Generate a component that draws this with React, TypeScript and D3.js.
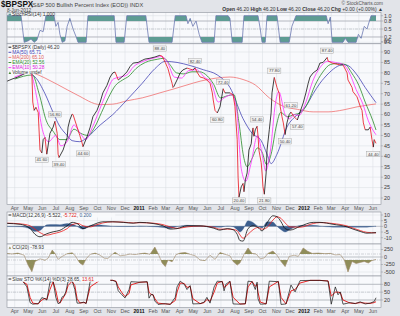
import React from "react";
import * as d3 from "d3";

// ---------------- DATA ----------------
const bpspx: [string, number][] = [
  ["2010-03-15", 76], ["2010-03-26", 77], ["2010-04-08", 78], ["2010-04-22", 79.5], ["2010-05-03", 81],
  ["2010-05-09", 80], ["2010-05-11", 66], ["2010-05-14", 62], ["2010-05-18", 63.5], ["2010-05-23", 61],
  ["2010-05-27", 43], ["2010-05-31", 41.6], ["2010-06-03", 48], ["2010-06-07", 49], ["2010-06-11", 41],
  ["2010-06-18", 51], ["2010-06-25", 54], ["2010-06-29", 56.8], ["2010-07-04", 51], ["2010-07-06", 41],
  ["2010-07-08", 39.4], ["2010-07-17", 43], ["2010-07-26", 49], ["2010-07-28", 54], ["2010-08-01", 57.5],
  ["2010-08-06", 60.2], ["2010-08-08", 60], ["2010-08-17", 54], ["2010-08-23", 50], ["2010-08-28", 46.4],
  ["2010-08-30", 44.6], ["2010-09-08", 49.4], ["2010-09-15", 54], ["2010-09-21", 59], ["2010-09-30", 62],
  ["2010-10-07", 66], ["2010-10-13", 70.4], ["2010-10-22", 74], ["2010-10-29", 78], ["2010-11-04", 80],
  ["2010-11-09", 80.4], ["2010-11-16", 76.6], ["2010-11-24", 78], ["2010-12-05", 80.4], ["2010-12-12", 83],
  ["2010-12-19", 84.7], ["2010-12-30", 85], ["2011-01-08", 86], ["2011-01-14", 86.6], ["2011-01-25", 87],
  ["2011-02-05", 87.6], ["2011-02-16", 88.4], ["2011-02-21", 88], ["2011-02-28", 85], ["2011-03-04", 83],
  ["2011-03-06", 82], ["2011-03-11", 78], ["2011-03-15", 75], ["2011-03-17", 73], ["2011-03-19", 73.5],
  ["2011-03-26", 76.6], ["2011-04-02", 80], ["2011-04-08", 81.4], ["2011-04-17", 82.3], ["2011-04-24", 81.8],
  ["2011-04-30", 81.4], ["2011-05-05", 82.4], ["2011-05-09", 80.4], ["2011-05-16", 78], ["2011-05-23", 77.6],
  ["2011-05-31", 76.6], ["2011-06-07", 75], ["2011-06-12", 70.4], ["2011-06-14", 67], ["2011-06-18", 62],
  ["2011-06-23", 60.8], ["2011-06-29", 63.7], ["2011-07-06", 72.4], ["2011-07-10", 70.4], ["2011-07-21", 70.4],
  ["2011-07-28", 69.5], ["2011-08-01", 64], ["2011-08-06", 48], ["2011-08-08", 30], ["2011-08-10", 20.4],
  ["2011-08-15", 25.4], ["2011-08-19", 27], ["2011-08-21", 23], ["2011-08-24", 28.7], ["2011-08-28", 32],
  ["2011-09-01", 43], ["2011-09-06", 46], ["2011-09-08", 51], ["2011-09-10", 53.6], ["2011-09-12", 49.6],
  ["2011-09-15", 52.7], ["2011-09-19", 54.4], ["2011-09-21", 50], ["2011-09-23", 43], ["2011-09-28", 37],
  ["2011-09-30", 32], ["2011-10-02", 25.4], ["2011-10-05", 21.8], ["2011-10-09", 32], ["2011-10-11", 43],
  ["2011-10-16", 52.7], ["2011-10-20", 60.8], ["2011-10-22", 70.4], ["2011-10-27", 77.8], ["2011-11-02", 73],
  ["2011-11-07", 70], ["2011-11-09", 64], ["2011-11-13", 59], ["2011-11-16", 56], ["2011-11-20", 50.4],
  ["2011-11-24", 56], ["2011-11-29", 60], ["2011-12-03", 61.2], ["2011-12-08", 59.5], ["2011-12-12", 58.5],
  ["2011-12-17", 57.4], ["2011-12-23", 61.3], ["2011-12-30", 65.6], ["2012-01-05", 70.4], ["2012-01-10", 75],
  ["2012-01-14", 78], ["2012-01-21", 80], ["2012-01-30", 81.4], ["2012-02-05", 84.7], ["2012-02-12", 85],
  ["2012-02-21", 87.4], ["2012-02-23", 85.7], ["2012-03-03", 84.7], ["2012-03-10", 84.3], ["2012-03-21", 83.8],
  ["2012-03-27", 83.8], ["2012-04-05", 80], ["2012-04-07", 76.6], ["2012-04-16", 73], ["2012-04-18", 71],
  ["2012-04-27", 68.5], ["2012-05-04", 64], ["2012-05-08", 62], ["2012-05-11", 56], ["2012-05-15", 52.7],
  ["2012-05-22", 52.7], ["2012-05-26", 54], ["2012-05-30", 48], ["2012-06-02", 44.4], ["2012-06-04", 48],
  ["2012-06-08", 46.2],
];

const ma50: [string, number][] = [
  ["2010-04-08", 82], ["2010-05-16", 78], ["2010-06-07", 70], ["2010-06-25", 61], ["2010-07-08", 55],
  ["2010-07-26", 50], ["2010-08-06", 47.5], ["2010-08-23", 47], ["2010-09-08", 49], ["2010-10-07", 55],
  ["2010-11-04", 60], ["2010-12-05", 67], ["2011-01-08", 75], ["2011-02-05", 82], ["2011-02-28", 85.5],
  ["2011-03-26", 85], ["2011-04-24", 83.5], ["2011-05-23", 81.5], ["2011-06-23", 79], ["2011-07-21", 73],
  ["2011-08-19", 58], ["2011-09-08", 51], ["2011-09-28", 47.5], ["2011-10-11", 41], ["2011-10-20", 36.5],
  ["2011-11-02", 41], ["2011-11-24", 54], ["2011-12-17", 60], ["2012-01-05", 64], ["2012-01-21", 70],
  ["2012-02-05", 75], ["2012-02-23", 79.5], ["2012-03-10", 82.5], ["2012-03-27", 84], ["2012-04-07", 83.5],
  ["2012-04-27", 79], ["2012-05-15", 73], ["2012-06-08", 65.7],
];

const ma200: [string, number][] = [
  ["2010-03-15", 82], ["2010-05-11", 80], ["2010-07-04", 74.5], ["2010-08-17", 69.4], ["2010-10-07", 64.8],
  ["2010-11-04", 65], ["2010-12-05", 66.6], ["2011-01-08", 68], ["2011-02-16", 70.4], ["2011-03-19", 72.3],
  ["2011-04-17", 74.2], ["2011-05-16", 76], ["2011-06-18", 77.4], ["2011-07-21", 78], ["2011-08-19", 76.8],
  ["2011-09-15", 74.2], ["2011-10-16", 68], ["2011-11-16", 64], ["2011-12-17", 62.5], ["2012-01-21", 61.3],
  ["2012-02-23", 61.3], ["2012-03-27", 62.2], ["2012-04-27", 63.7], ["2012-05-22", 64.6], ["2012-06-08", 65.1],
];

const ema20: [string, number][] = [
  ["2010-04-01", 77], ["2010-05-10", 79], ["2010-05-25", 70], ["2010-06-10", 57], ["2010-06-25", 52],
  ["2010-07-10", 48], ["2010-07-25", 48], ["2010-08-10", 53], ["2010-08-25", 51], ["2010-09-10", 50],
  ["2010-09-25", 54], ["2010-10-10", 61], ["2010-10-25", 68], ["2010-11-10", 74], ["2010-11-25", 76.5],
  ["2010-12-10", 78.5], ["2010-12-25", 82], ["2011-01-15", 85], ["2011-02-10", 86.5], ["2011-02-25", 87],
  ["2011-03-10", 84], ["2011-03-25", 80], ["2011-04-10", 79.5], ["2011-04-28", 80.5], ["2011-05-15", 80.5],
  ["2011-06-01", 78.5], ["2011-06-15", 74.5], ["2011-06-30", 68], ["2011-07-15", 69], ["2011-07-30", 69.5],
  ["2011-08-10", 56], ["2011-08-20", 40], ["2011-08-28", 35], ["2011-09-08", 39], ["2011-09-20", 44],
  ["2011-09-30", 42], ["2011-10-10", 36], ["2011-10-20", 41], ["2011-11-01", 55], ["2011-11-10", 61],
  ["2011-11-25", 59], ["2011-12-10", 60], ["2011-12-25", 61], ["2012-01-10", 66], ["2012-01-25", 74],
  ["2012-02-10", 80], ["2012-02-28", 84], ["2012-03-15", 84.5], ["2012-04-01", 84], ["2012-04-15", 80],
  ["2012-05-01", 74], ["2012-05-15", 66], ["2012-06-01", 57], ["2012-06-08", 52.6],
];

const ema10: [string, number][] = [
  ["2010-04-01", 78], ["2010-05-05", 80], ["2010-05-20", 68], ["2010-06-01", 53], ["2010-06-15", 47],
  ["2010-07-01", 50], ["2010-07-12", 45], ["2010-07-26", 47], ["2010-08-10", 55], ["2010-08-24", 51],
  ["2010-09-05", 48], ["2010-09-20", 54], ["2010-10-05", 62], ["2010-10-20", 70], ["2010-11-05", 77],
  ["2010-11-20", 78], ["2010-12-05", 79], ["2010-12-20", 83], ["2011-01-10", 85.5], ["2011-02-01", 87],
  ["2011-02-20", 87.8], ["2011-03-05", 85], ["2011-03-20", 78], ["2011-04-05", 77.5], ["2011-04-20", 81],
  ["2011-05-08", 81.5], ["2011-05-25", 78], ["2011-06-10", 75], ["2011-06-25", 66], ["2011-07-08", 68],
  ["2011-07-25", 69.5], ["2011-08-05", 62], ["2011-08-15", 34], ["2011-08-25", 28], ["2011-09-05", 36],
  ["2011-09-20", 50], ["2011-10-01", 40], ["2011-10-08", 33], ["2011-10-18", 42], ["2011-10-30", 66],
  ["2011-11-06", 71], ["2011-11-20", 60], ["2011-11-30", 58], ["2011-12-10", 60], ["2011-12-20", 59.5],
  ["2012-01-05", 66], ["2012-01-20", 76], ["2012-02-05", 82.5], ["2012-02-22", 85.5], ["2012-03-10", 85],
  ["2012-03-28", 84], ["2012-04-10", 80], ["2012-04-25", 72], ["2012-05-10", 65], ["2012-05-22", 57],
  ["2012-06-08", 50.3],
];

// price annotations: date, text, -1 above / +1 below
const priceNotes: [string, string, number][] = [
  ["2010-05-31", "41.60", 1], ["2010-06-29", "56.80", -1], ["2010-07-08", "39.40", 1], ["2010-08-30", "44.60", 1],
  ["2011-02-16", "88.40", -1], ["2011-05-05", "82.40", -1], ["2011-06-23", "60.80", 1], ["2011-07-06", "72.40", -1],
  ["2011-08-10", "20.40", 1], ["2011-09-19", "54.40", -1], ["2011-10-05", "21.80", 1], ["2011-10-27", "77.80", -1],
  ["2011-11-20", "50.40", 1], ["2011-12-03", "61.20", -1], ["2011-12-17", "57.40", 1], ["2012-02-21", "87.40", -1],
  ["2012-06-02", "44.40", 1],
];

const stochRsi: [string, number][] = [
  ["2010-03-15", 1], ["2010-04-15", 1], ["2010-04-22", 0], ["2010-04-30", 0.05], ["2010-05-07", 0.12],
  ["2010-05-14", 0], ["2010-05-20", 0.08], ["2010-05-27", 0.45], ["2010-06-03", 0.4], ["2010-06-09", 1],
  ["2010-06-27", 1], ["2010-07-01", 0.6], ["2010-07-06", 0.75], ["2010-07-10", 0.3], ["2010-07-15", 0],
  ["2010-07-21", 0.05], ["2010-07-26", 0.6], ["2010-08-01", 0.9], ["2010-08-08", 0.5], ["2010-08-15", 0.2],
  ["2010-08-19", 0], ["2010-09-06", 0], ["2010-09-10", 1], ["2010-11-07", 1], ["2010-11-11", 0],
  ["2010-11-29", 0], ["2010-12-05", 1], ["2011-01-16", 1], ["2011-01-23", 0], ["2011-03-15", 0],
  ["2011-03-22", 1], ["2011-04-15", 1], ["2011-04-19", 0.7], ["2011-04-24", 0.9], ["2011-04-30", 0.6],
  ["2011-05-07", 0.8], ["2011-05-14", 0.3], ["2011-05-20", 0], ["2011-06-16", 0], ["2011-06-20", 1],
  ["2011-07-17", 1], ["2011-07-21", 0.9], ["2011-07-26", 0], ["2011-08-17", 0], ["2011-08-21", 1],
  ["2011-09-21", 1], ["2011-09-26", 0.5], ["2011-09-30", 0], ["2011-10-07", 0], ["2011-10-11", 1],
  ["2011-11-02", 1], ["2011-11-09", 0], ["2011-11-29", 0], ["2011-12-05", 0.6], ["2011-12-14", 1],
  ["2012-02-19", 1], ["2012-02-23", 0.7], ["2012-02-28", 0.95], ["2012-03-03", 0], ["2012-03-27", 0],
  ["2012-04-01", 0.15], ["2012-04-07", 0], ["2012-04-25", 0], ["2012-04-30", 0.3], ["2012-05-06", 0.15],
  ["2012-05-13", 0.6], ["2012-05-19", 0.5], ["2012-05-28", 1], ["2012-06-08", 1],
];

const macdDates: string[] = [
  "2010-03-15", "2010-04-13", "2010-05-05", "2010-05-16", "2010-05-27", "2010-06-11", "2010-06-25", "2010-07-10",
  "2010-07-26", "2010-08-06", "2010-08-19", "2010-08-30", "2010-09-15", "2010-09-30", "2010-10-13", "2010-11-04",
  "2010-11-27", "2010-12-19", "2011-01-03", "2011-02-01", "2011-02-23", "2011-03-11", "2011-03-26", "2011-04-17",
  "2011-05-16", "2011-06-14", "2011-06-29", "2011-07-15", "2011-07-28", "2011-08-06", "2011-08-12", "2011-08-19",
  "2011-08-30", "2011-09-10", "2011-09-21", "2011-09-30", "2011-10-11", "2011-10-24", "2011-11-02", "2011-11-11",
  "2011-11-20", "2011-12-01", "2011-12-23", "2012-01-21", "2012-02-05", "2012-03-05", "2012-04-05", "2012-04-18",
  "2012-05-04", "2012-05-19", "2012-06-08",
];
const macdLine: number[] = [
  2.6, 1.8, -1.8, -7, -9.2, -6.5, -4.8, -3.5, 0.5, 3.5, 2, -2, 0.3, 2.8, 4, 4,
  3.5, 2.8, 3.5, 2.5, 0.5, -2.4, -2, 0.5, 0.5, -1.5, -3.3, -2, -3, -7, -12.5, -13,
  -2, 0.5, -1, -4, 3, 9.3, 8.5, 4, -2, -3.3, 0, 3.5, 3.5, 1.8, -0.5, -2.4,
  -4.5, -6, -5.522,
];
const macdSignal: number[] = [
  2.8, 2.2, 0.5, -2.5, -5.5, -7.8, -6.5, -5, -2, 1.5, 2.5, 0.5, -0.5, 1.5, 3, 4,
  3.7, 3, 3.2, 2.8, 1.5, -0.5, -1.8, -0.5, 0.3, -0.8, -2.5, -2.4, -2.7, -4, -7.5, -10.5,
  -7, -3, -1, -2.5, -1, 5.5, 8.4, 7, 3, -0.5, -0.8, 2.5, 3.3, 2.5, 0.3, -1.5,
  -3.7, -5.3, -5.722,
];

const cci: [string, number][] = [
  ["2010-03-15", 120], ["2010-03-26", 100], ["2010-04-08", 130], ["2010-04-22", 60], ["2010-04-30", -250],
  ["2010-05-09", -490], ["2010-05-16", -150], ["2010-05-27", -60], ["2010-06-07", -110], ["2010-06-14", -40],
  ["2010-06-23", 230], ["2010-06-29", 120], ["2010-07-06", -80], ["2010-07-15", 20], ["2010-07-26", 110],
  ["2010-08-06", 140], ["2010-08-12", 60], ["2010-08-23", -200], ["2010-08-30", -270], ["2010-09-06", -60],
  ["2010-09-15", 90], ["2010-09-26", 130], ["2010-10-07", 60], ["2010-10-16", -40], ["2010-10-24", -50],
  ["2010-11-02", 80], ["2010-11-09", 160], ["2010-11-20", 40], ["2010-12-01", 60], ["2010-12-12", 100],
  ["2010-12-23", 80], ["2011-01-03", 110], ["2011-01-14", 130], ["2011-01-25", 90], ["2011-02-05", 330],
  ["2011-02-12", 120], ["2011-02-21", -200], ["2011-02-28", -320], ["2011-03-06", -100], ["2011-03-15", -160],
  ["2011-03-24", 80], ["2011-04-02", 130], ["2011-04-13", 150], ["2011-04-24", 90], ["2011-05-05", 40],
  ["2011-05-16", -100], ["2011-05-27", -120], ["2011-06-07", 60], ["2011-06-18", -80], ["2011-06-29", 150],
  ["2011-07-10", 90], ["2011-07-21", 40], ["2011-07-28", -150], ["2011-08-06", -270], ["2011-08-12", -200],
  ["2011-08-21", 80], ["2011-08-30", 300], ["2011-09-08", 120], ["2011-09-17", 100], ["2011-09-26", -60],
  ["2011-10-05", -30], ["2011-10-13", 120], ["2011-10-24", 200], ["2011-11-02", 60], ["2011-11-11", -150],
  ["2011-11-20", -320], ["2011-11-29", 20], ["2011-12-10", 60], ["2011-12-19", 20], ["2011-12-30", 300],
  ["2012-01-08", 200], ["2012-01-19", 120], ["2012-02-01", 130], ["2012-02-16", 110], ["2012-02-28", 120],
  ["2012-03-10", 70], ["2012-03-21", 80], ["2012-03-30", -100], ["2012-04-07", -500], ["2012-04-16", -150],
  ["2012-04-25", -220], ["2012-05-04", -180], ["2012-05-13", -150], ["2012-05-22", -200], ["2012-05-30", -120],
  ["2012-06-08", -78.93],
];

const stoDates: string[] = [
  "2010-04-19", "2010-04-28", "2010-05-05", "2010-05-11", "2010-05-23", "2010-05-31", "2010-06-07", "2010-06-11",
  "2010-06-18", "2010-06-25", "2010-07-01", "2010-07-06", "2010-07-10", "2010-07-15", "2010-07-19", "2010-07-23",
  "2010-07-28", "2010-08-06", "2010-08-12", "2010-08-17", "2010-08-23", "2010-09-01", "2010-09-06", "2010-09-15",
  "2010-10-07", "2010-11-04", "2010-11-11", "2010-11-16", "2010-11-24", "2010-12-01", "2010-12-10", "2010-12-14",
  "2011-01-03", "2011-01-19", "2011-01-23", "2011-01-28", "2011-02-01", "2011-02-05", "2011-02-12", "2011-02-28",
  "2011-03-11", "2011-03-22", "2011-03-26", "2011-04-02", "2011-04-11", "2011-04-17", "2011-04-24", "2011-04-30",
  "2011-05-16", "2011-05-25", "2011-05-31", "2011-06-07", "2011-06-16", "2011-06-23", "2011-07-04", "2011-07-08",
  "2011-07-12", "2011-07-21", "2011-07-28", "2011-08-12", "2011-08-24", "2011-08-30", "2011-09-08", "2011-09-15",
  "2011-09-19", "2011-09-21", "2011-09-26", "2011-10-09", "2011-10-16", "2011-11-05", "2011-11-11", "2011-11-22",
  "2011-12-03", "2011-12-12", "2011-12-23", "2012-01-14", "2012-02-05", "2012-02-23", "2012-03-01", "2012-03-10",
  "2012-03-16", "2012-03-21", "2012-03-27", "2012-04-12", "2012-04-23", "2012-05-04", "2012-05-15", "2012-05-26",
  "2012-06-04", "2012-06-08",
];
const stoK: number[] = [
  92, 70, 10, 4, 6, 29, 25, 20, 88, 92, 30, 6, 9, 32, 35, 51,
  90, 93, 60, 8, 8, 12, 6, 92, 97, 95, 90, 55, 40, 28, 60, 90,
  88, 90, 27, 42, 40, 16, 3, 6, 3, 30, 70, 92, 80, 60, 75, 5,
  6, 12, 30, 8, 70, 92, 90, 55, 80, 92, 5, 4, 6, 92, 90, 60,
  88, 25, 4, 5, 92, 90, 3, 5, 77, 51, 94, 95, 95, 92, 4, 70,
  40, 51, 4, 10, 6, 13, 5, 8, 14, 28.65,
];
const stoD: number[] = [
  90, 80, 30, 8, 5, 20, 26, 22, 60, 90, 55, 15, 8, 22, 33, 45,
  75, 92, 75, 25, 9, 10, 8, 70, 96, 95, 92, 70, 48, 33, 45, 78,
  88, 89, 50, 40, 40, 25, 8, 5, 4, 18, 50, 85, 83, 68, 72, 25,
  6, 10, 22, 15, 50, 85, 91, 68, 72, 90, 30, 5, 5, 70, 91, 72,
  80, 50, 12, 5, 70, 91, 30, 5, 55, 60, 85, 95, 95, 93, 35, 50,
  50, 48, 20, 8, 7, 10, 8, 7, 10, 13.61,
];

const mainTicks = [20, 25, 30, 35, 40, 45, 50, 55, 60, 65, 70, 75, 80, 85, 90, 95];
const stochTicks = [1.0, 0.8, 0.5, 0.2, 0.0];
const macdTicks = [10, 5, 0, -5, -10];
const cciTicks = [250, 0, -250, -500];
const stoTicks = [80, 50, 20];

// ---------------- LAYOUT ----------------
const FONT = "'Liberation Sans', Arial, Helvetica, sans-serif";
const parse = d3.timeParse("%Y-%m-%d");
const P = (s: string) => parse(s) as Date;
const XL = 7, XR = 381;
const x = d3.scaleTime().domain([P("2010-03-15"), P("2012-06-19")]).range([XL, XR]);

const PAN = {
  stoch: [12.5, 43.8],
  main: [43.8, 204.5],
  macd: [212, 244],
  cci: [244, 276],
  sto: [276, 307.5],
};
const yStoch = d3.scaleLinear().domain([0, 1]).range([42.3, 15.7]);
const yMain = d3.scaleLinear().domain([20, 90]).range([198, 52]);
const yMacd = d3.scaleLinear().domain([-10, 10]).range([237.7, 215]);
const yCci = d3.scaleLinear().domain([-500, 250]).range([272, 249.5]);
const ySto = d3.scaleLinear().domain([20, 80]).range([300, 284.3]);

const months = d3.timeMonth.range(new Date(2010, 3, 1), new Date(2012, 5, 2));

const BG = "#e2e4e9";
const PANEL = "#f8f9fc";
const GRID = "#d9dce3";
const BORDER = "#8d929c";
const LBL = "#3a3a3a";

function tupleLine(y: d3.ScaleLinear<number, number>, curve: d3.CurveFactory = d3.curveLinear) {
  return d3.line<[string, number]>().x((d) => x(P(d[0]))).y((d) => y(d[1])).curve(curve);
}

function Panel({ top, bottom, ticks, y, fmt }: { top: number; bottom: number; ticks: number[]; y: (v: number) => number; fmt: (v: number) => string }) {
  return (
    <g>
      <rect x={XL} y={top} width={XR - XL} height={bottom - top} fill={PANEL} />
      {months.map((m, i) => (
        <line key={"v" + i} x1={x(m)} x2={x(m)} y1={top} y2={bottom} stroke={GRID} strokeWidth={0.5} />
      ))}
      {ticks.map((t, i) => (
        <g key={"t" + i}>
          {y(t) > top && y(t) < bottom && (
            <line x1={XL} x2={XR} y1={y(t)} y2={y(t)} stroke={GRID} strokeWidth={0.5} />
          )}
          <line x1={XR} x2={XR + 2} y1={y(t)} y2={y(t)} stroke={BORDER} strokeWidth={0.5} />
          <text x={XR + 3} y={y(t) + 1.9} fontSize={5.4} fill={LBL}>{fmt(t)}</text>
        </g>
      ))}
    </g>
  );
}

function MonthLabels({ yy }: { yy: number }) {
  return (
    <g>
      {months.map((m, i) => {
        const jan = m.getMonth() === 0;
        return (
          <text key={i} x={x(m)} y={yy} fontSize={5.2} textAnchor="middle" fill={jan ? "#111" : "#555"} fontWeight={jan ? "bold" : "normal"}>
            {jan ? d3.timeFormat("%Y")(m) : d3.timeFormat("%b")(m)}
          </text>
        );
      })}
    </g>
  );
}

export default function App() {
  // price segments coloured by direction
  const segs = bpspx.slice(1).map((d, i) => {
    const prev = bpspx[i];
    const path = tupleLine(yMain)([prev, d]) as string;
    return { path, up: d[1] >= prev[1] };
  });

  const stochLine = tupleLine(yStoch)(stochRsi) as string;
  const stochHi = d3.area<[string, number]>().x((d) => x(P(d[0]))).y0(yStoch(0.8)).y1((d) => yStoch(d[1]))(stochRsi) as string;
  const stochLo = d3.area<[string, number]>().x((d) => x(P(d[0]))).y0(yStoch(0.2)).y1((d) => yStoch(d[1]))(stochRsi) as string;

  const macdIdx = macdDates.map((_, i) => i);
  const macdPath = d3.line<number>().x((i) => x(P(macdDates[i]))).y((i) => yMacd(macdLine[i])).curve(d3.curveMonotoneX)(macdIdx) as string;
  const sigPath = d3.line<number>().x((i) => x(P(macdDates[i]))).y((i) => yMacd(macdSignal[i])).curve(d3.curveMonotoneX)(macdIdx) as string;
  const histPath = d3.area<number>().x((i) => x(P(macdDates[i]))).y0(yMacd(0)).y1((i) => yMacd(macdLine[i] - macdSignal[i])).curve(d3.curveMonotoneX)(macdIdx) as string;

  const cciPath = tupleLine(yCci)(cci) as string;
  const cciHi = d3.area<[string, number]>().x((d) => x(P(d[0]))).y0(yCci(100)).y1((d) => yCci(d[1]))(cci) as string;
  const cciLo = d3.area<[string, number]>().x((d) => x(P(d[0]))).y0(yCci(-100)).y1((d) => yCci(d[1]))(cci) as string;

  const stoIdx = stoDates.map((_, i) => i);
  const kPath = d3.line<number>().x((i) => x(P(stoDates[i]))).y((i) => ySto(stoK[i]))(stoIdx) as string;
  const dPath = d3.line<number>().x((i) => x(P(stoDates[i]))).y((i) => ySto(stoD[i]))(stoIdx) as string;

  const fmt0 = (v: number) => String(v);
  const fmt1 = (v: number) => v.toFixed(1);

  const legendRows: [string, string, string][] = [
    ["$BPSPX (Daily) 46.20", "#333", "#000"],
    ["MA(50) 65.71", "#3b3bb0", "#3b3bb0"],
    ["MA(200) 65.10", "#e05a5a", "#f07070"],
    ["EMA(20) 52.56", "#2a8a2a", "#2a8a2a"],
    ["EMA(10) 50.28", "#e020e0", "#ff30ff"],
    ["Volume undef", "#333", ""],
  ];

  return (
    <div style={{ position: "absolute", left: 0, top: 0 }}>
      <svg width={400} height={316} style={{ display: "block", fontFamily: FONT }}>
        <defs>
          {Object.entries(PAN).map(([k, [t, b]]) => (
            <clipPath id={"clip-" + k} key={k}>
              <rect x={XL} y={t} width={XR - XL} height={b - t} />
            </clipPath>
          ))}
          <clipPath id="stochHiClip"><rect x={XL} y={PAN.stoch[0]} width={XR - XL} height={yStoch(0.8) - PAN.stoch[0]} /></clipPath>
          <clipPath id="stochLoClip"><rect x={XL} y={yStoch(0.2)} width={XR - XL} height={PAN.stoch[1] - yStoch(0.2)} /></clipPath>
          <clipPath id="cciHiClip"><rect x={XL} y={PAN.cci[0]} width={XR - XL} height={yCci(100) - PAN.cci[0]} /></clipPath>
          <clipPath id="cciLoClip"><rect x={XL} y={yCci(-100)} width={XR - XL} height={PAN.cci[1] - yCci(-100)} /></clipPath>
        </defs>
        <rect x={0} y={0} width={400} height={316} fill={BG} />

        {/* header */}
        <text x={1} y={7} fontSize={8.2} fontWeight="bold" fill="#111">$BPSPX</text>
        <text x={31} y={6.8} fontSize={5.6} fill="#444">(S&amp;P 500 Bullish Percent Index (EOD)) INDX</text>
        <text x={7} y={11.6} fontSize={4.8} fill="#444">8-Jun-2012</text>
        <text x={383} y={5.2} fontSize={4.8} fill="#555" textAnchor="end">© StockCharts.com</text>
        <text x={383} y={11.3} fontSize={5} fill="#333" textAnchor="end">
          <tspan fontWeight="bold">Open</tspan> 46.20 <tspan fontWeight="bold">High</tspan> 46.20 <tspan fontWeight="bold">Low</tspan> 46.20 <tspan fontWeight="bold">Close</tspan> 46.20 <tspan fontWeight="bold">Chg</tspan> +0.00 (+0.00%) ▲
        </text>

        {/* StochRSI panel */}
        <Panel top={PAN.stoch[0]} bottom={PAN.stoch[1]} ticks={stochTicks} y={yStoch} fmt={fmt1} />
        <g clipPath="url(#clip-stoch)">
          <line x1={XL} x2={XR} y1={yStoch(0.8)} y2={yStoch(0.8)} stroke="#9a9ea6" strokeWidth={0.6} />
          <line x1={XL} x2={XR} y1={yStoch(0.2)} y2={yStoch(0.2)} stroke="#9a9ea6" strokeWidth={0.6} />
          <line x1={XL} x2={XR} y1={yStoch(0.5)} y2={yStoch(0.5)} stroke="#a8acb4" strokeWidth={0.5} strokeDasharray="3,1,1,1" />
          <path d={stochHi} fill="#5e9c93" clipPath="url(#stochHiClip)" />
          <path d={stochLo} fill="#5e9c93" clipPath="url(#stochLoClip)" />
          <path d={stochLine} fill="none" stroke="#6c79b1" strokeWidth={0.8} />
        </g>
        <rect x={XL} y={PAN.stoch[0]} width={XR - XL} height={PAN.stoch[1] - PAN.stoch[0]} fill="none" stroke={BORDER} strokeWidth={0.6} />
        <rect x={8.5} y={13.6} width={2.6} height={2} fill="#5e9c93" />
        <text x={12} y={16} fontSize={4.9} fill="#333">StochRSI(14) 1.000</text>

        {/* Main panel */}
        <Panel top={PAN.main[0]} bottom={PAN.main[1]} ticks={mainTicks} y={yMain} fmt={fmt0} />
        <g clipPath="url(#clip-main)">
          <path d={tupleLine(yMain, d3.curveMonotoneX)(ma200) as string} fill="none" stroke="#f07070" strokeWidth={0.8} />
          <path d={tupleLine(yMain, d3.curveMonotoneX)(ma50) as string} fill="none" stroke="#4545b5" strokeWidth={0.8} />
          <path d={tupleLine(yMain, d3.curveMonotoneX)(ema20) as string} fill="none" stroke="#2a8a2a" strokeWidth={0.8} />
          <path d={tupleLine(yMain, d3.curveMonotoneX)(ema10) as string} fill="none" stroke="#ff30ff" strokeWidth={0.8} />
          {segs.map((s, i) => (
            <path key={i} d={s.path} fill="none" stroke={s.up ? "#111" : "#e8101a"} strokeWidth={0.8} />
          ))}
          {priceNotes.map(([d, t, dir], i) => {
            const pt = bpspx.find((p) => p[0] === d);
            const v = pt ? pt[1] : 50;
            const cx = x(P(d));
            const cy = Math.min(yMain(v) + dir * 6.8, PAN.main[1] - 4);
            return (
              <g key={i}>
                <rect x={cx - 6.6} y={cy - 2.6} width={13.2} height={5.2} fill="#f2f2f2" stroke="#9a9a9a" strokeWidth={0.4} />
                <text x={cx} y={cy + 1.6} fontSize={4.3} textAnchor="middle" fill="#444">{t}</text>
              </g>
            );
          })}
          {/* legend */}
          <rect x={XL + 0.3} y={PAN.main[0] + 0.3} width={38} height={30} fill={PANEL} />
          {legendRows.map(([t, tc, lc], i) => {
            const yy = 47.2 + i * 5.1;
            return (
              <g key={i}>
                {lc ? (
                  <line x1={8.5} x2={11.3} y1={yy} y2={yy} stroke={lc} strokeWidth={0.9} />
                ) : (
                  <path d={`M8.6,${yy + 1.2}L9.9,${yy - 1.2}L11.2,${yy + 1.2}Z`} fill="#4a8a3a" />
                )}
                <text x={12.2} y={yy + 1.7} fontSize={4.8} fill={tc}>{t}</text>
              </g>
            );
          })}
        </g>
        <rect x={XL} y={PAN.main[0]} width={XR - XL} height={PAN.main[1] - PAN.main[0]} fill="none" stroke={BORDER} strokeWidth={0.6} />
        <MonthLabels yy={210.2} />

        {/* MACD panel */}
        <Panel top={PAN.macd[0]} bottom={PAN.macd[1]} ticks={macdTicks} y={yMacd} fmt={fmt0} />
        <g clipPath="url(#clip-macd)">
          <line x1={XL} x2={XR} y1={yMacd(0)} y2={yMacd(0)} stroke="#9a9ea6" strokeWidth={0.5} />
          <path d={histPath} fill="#3d5f8e" stroke="#3d5f8e" strokeWidth={0.3} />
          <path d={sigPath} fill="none" stroke="#ee1c1c" strokeWidth={0.8} />
          <path d={macdPath} fill="none" stroke="#111" strokeWidth={0.8} />
          <rect x={XL + 0.3} y={PAN.macd[0] + 0.3} width={108} height={5.2} fill={PANEL} opacity={0.9} />
          <line x1={8.5} x2={11.3} y1={215} y2={215} stroke="#111" strokeWidth={0.9} />
          <text x={12.2} y={216.8} fontSize={4.8} fill="#333">
            MACD(12,26,9) -5.522, <tspan fill="#e02020">-5.722</tspan>, <tspan fill="#3d5f8e">0.200</tspan>
          </text>
        </g>
        <rect x={XL} y={PAN.macd[0]} width={XR - XL} height={PAN.macd[1] - PAN.macd[0]} fill="none" stroke={BORDER} strokeWidth={0.6} />

        {/* CCI panel */}
        <Panel top={PAN.cci[0]} bottom={PAN.cci[1]} ticks={cciTicks} y={yCci} fmt={fmt0} />
        <g clipPath="url(#clip-cci)">
          <line x1={XL} x2={XR} y1={yCci(100)} y2={yCci(100)} stroke="#a8acb4" strokeWidth={0.5} strokeDasharray="3,1,1,1" />
          <line x1={XL} x2={XR} y1={yCci(-100)} y2={yCci(-100)} stroke="#a8acb4" strokeWidth={0.5} strokeDasharray="3,1,1,1" />
          <line x1={XL} x2={XR} y1={yCci(0)} y2={yCci(0)} stroke="#9a9ea6" strokeWidth={0.5} />
          <path d={cciHi} fill="#8f8d5a" clipPath="url(#cciHiClip)" />
          <path d={cciLo} fill="#8f8d5a" clipPath="url(#cciLoClip)" />
          <path d={cciPath} fill="none" stroke="#a08868" strokeWidth={0.6} />
          <rect x={XL + 0.3} y={PAN.cci[0] + 0.3} width={45} height={5.2} fill={PANEL} opacity={0.9} />
          <path d="M8.6,248.8L9.9,246.4L11.2,248.8Z" fill="#8f8d5a" />
          <text x={12.2} y={249.3} fontSize={4.8} fill="#333">CCI(20) -78.93</text>
        </g>
        <rect x={XL} y={PAN.cci[0]} width={XR - XL} height={PAN.cci[1] - PAN.cci[0]} fill="none" stroke={BORDER} strokeWidth={0.6} />

        {/* Slow STO panel */}
        <Panel top={PAN.sto[0]} bottom={PAN.sto[1]} ticks={stoTicks} y={ySto} fmt={fmt0} />
        <g clipPath="url(#clip-sto)">
          <line x1={XL} x2={XR} y1={ySto(80)} y2={ySto(80)} stroke="#9a9ea6" strokeWidth={0.6} />
          <line x1={XL} x2={XR} y1={ySto(20)} y2={ySto(20)} stroke="#9a9ea6" strokeWidth={0.6} />
          <line x1={XL} x2={XR} y1={ySto(50)} y2={ySto(50)} stroke="#a8acb4" strokeWidth={0.5} strokeDasharray="3,1,1,1" />
          <path d={dPath} fill="none" stroke="#e81010" strokeWidth={0.9} />
          <path d={kPath} fill="none" stroke="#111" strokeWidth={0.7} />
          <rect x={XL + 0.3} y={PAN.sto[0] + 0.3} width={103} height={5.4} fill={PANEL} />
          <line x1={8.5} x2={11.3} y1={279} y2={279} stroke="#111" strokeWidth={0.9} />
          <text x={12.2} y={280.8} fontSize={4.8} fill="#333">
            Slow STO %K(14) %D(3) 28.65, <tspan fill="#e02020">13.61</tspan>
          </text>
        </g>
        <rect x={XL} y={PAN.sto[0]} width={XR - XL} height={PAN.sto[1] - PAN.sto[0]} fill="none" stroke={BORDER} strokeWidth={0.6} />
        <MonthLabels yy={313.2} />
      </svg>
    </div>
  );
}
